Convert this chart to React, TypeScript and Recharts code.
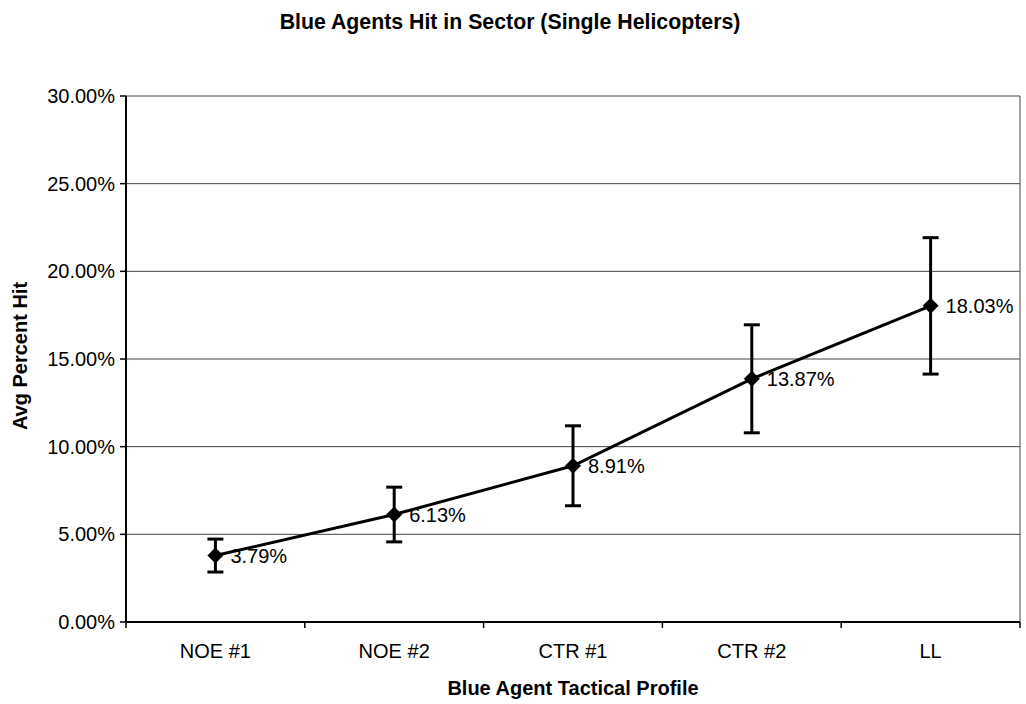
import { LineChart, Line, XAxis, YAxis, CartesianGrid, ErrorBar, LabelList, ReferenceLine } from "recharts";

const categories = ["NOE #1", "NOE #2", "CTR #1", "CTR #2", "LL"];
const avgPercentHit = [3.79, 6.13, 8.91, 13.87, 18.03];
const errorAmount = [0.94, 1.56, 2.28, 3.08, 3.89];
const yTicks = [0, 5, 10, 15, 20, 25, 30];

const FONT = "'Liberation Sans', Arial, Helvetica, sans-serif";

// each category sits in the middle of its slot, tick marks fall on slot edges
const data = categories.map((name, i) => ({
    name,
    pos: i + 0.5,
    value: avgPercentHit[i],
    err: errorAmount[i],
}));
const xTicks = categories.flatMap((_, i) => [i, i + 0.5]).concat(categories.length);

const pct = (v: number) => `${v.toFixed(2)}%`;

function XTick(props: any) {
    const { x, y, payload } = props;
    const v = payload.value;
    if (Number.isInteger(v)) {
        return <line x1={x} x2={x} y1={y} y2={y + 6} stroke="#000" strokeWidth={1.5} />;
    }
    return (
        <text x={x} y={y + 36} textAnchor="middle" fontSize={20} fontFamily={FONT} fill="#000">
            {categories[Math.floor(v)]}
        </text>
    );
}

function Diamond(props: any) {
    const { cx, cy } = props;
    if (cx == null || cy == null) return null;
    const s = 8;
    return <polygon points={`${cx},${cy - s} ${cx + s},${cy} ${cx},${cy + s} ${cx - s},${cy}`} fill="#000" />;
}

export default function App() {
    return (
        <div style={{ position: "absolute", left: 0, top: 0, width: 1026, height: 704, background: "#fff", fontFamily: FONT }}>
            <div
                style={{
                    position: "absolute",
                    top: 12,
                    left: 0,
                    width: 1020,
                    textAlign: "center",
                    fontSize: 21.3,
                    lineHeight: "21px",
                    fontWeight: "bold",
                    color: "#000",
                }}
            >
                Blue Agents Hit in Sector (Single Helicopters)
            </div>
            <LineChart width={1026} height={704} data={data} margin={{ top: 96, right: 6, bottom: 0, left: 0 }}>
                <CartesianGrid vertical={false} stroke="#444" strokeWidth={1} />
                <XAxis
                    dataKey="pos"
                    type="number"
                    domain={[0, categories.length]}
                    ticks={xTicks}
                    interval={0}
                    height={82}
                    tickLine={false}
                    tickSize={0}
                    tickMargin={0}
                    tick={<XTick />}
                    axisLine={{ stroke: "#000", strokeWidth: 2 }}
                    label={{
                        content: (p: any) => {
                            const vb = p.viewBox;
                            return (
                                <text x={vb.x + vb.width / 2} y={vb.y + 73} textAnchor="middle" fontSize={20} fontWeight="bold" fontFamily={FONT} fill="#000">
                                    Blue Agent Tactical Profile
                                </text>
                            );
                        },
                    }}
                />
                <YAxis
                    type="number"
                    domain={[0, 30]}
                    ticks={yTicks}
                    interval={0}
                    width={126}
                    tickFormatter={pct}
                    tickSize={6}
                    tickMargin={5}
                    tickLine={{ stroke: "#000", strokeWidth: 1.5 }}
                    axisLine={{ stroke: "#000", strokeWidth: 2 }}
                    tick={{ fontSize: 20, fill: "#000", fontFamily: FONT }}
                    label={{
                        content: (p: any) => {
                            const vb = p.viewBox;
                            const cx = vb.x + 20;
                            const cy = vb.y + vb.height / 2 - 3;
                            return (
                                <text
                                    x={cx}
                                    y={cy}
                                    transform={`rotate(-90, ${cx}, ${cy})`}
                                    textAnchor="middle"
                                    dominantBaseline="central"
                                    fontSize={20}
                                    fontWeight="bold"
                                    fontFamily={FONT}
                                    fill="#000"
                                >
                                    Avg Percent Hit
                                </text>
                            );
                        },
                    }}
                />
                <ReferenceLine x={categories.length} stroke="#444" strokeWidth={1} />
                <Line
                    dataKey="value"
                    stroke="#000"
                    strokeWidth={3}
                    dot={<Diamond />}
                    activeDot={false}
                    isAnimationActive={false}
                >
                    <ErrorBar dataKey="err" direction="y" width={8} stroke="#000" strokeWidth={3} isAnimationActive={false} />
                    <LabelList
                        dataKey="value"
                        position="right"
                        offset={15}
                        formatter={(v: any) => pct(Number(v))}
                        style={{ fontSize: 20, fill: "#000", fontFamily: FONT }}
                    />
                </Line>
            </LineChart>
        </div>
    );
}
